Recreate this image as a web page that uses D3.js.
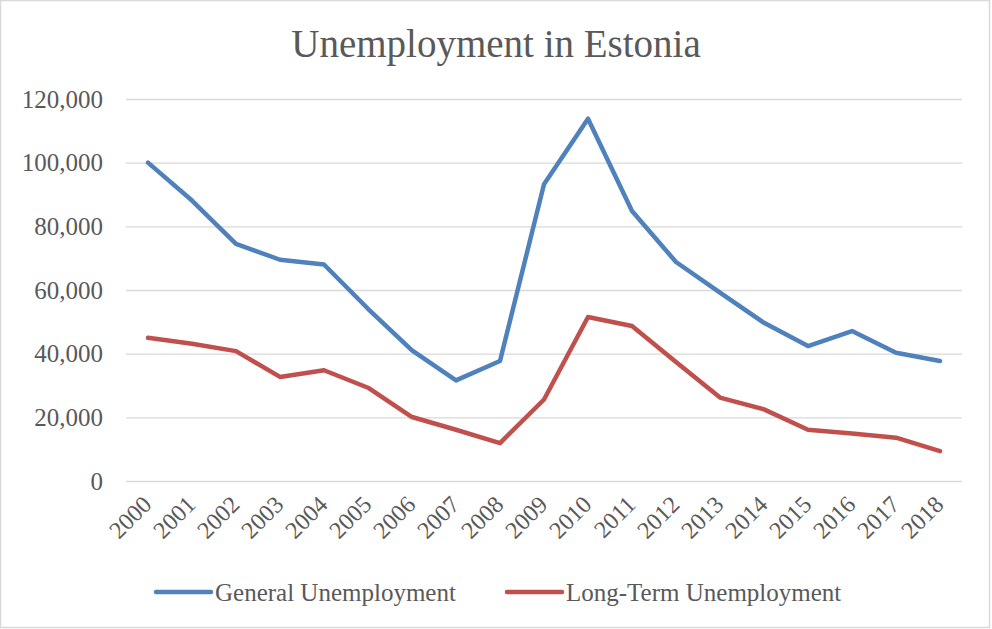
<!DOCTYPE html>
<html>
<head>
<meta charset="utf-8">
<script src="https://cdn.jsdelivr.net/npm/d3@7.9.0/dist/d3.min.js"></script>
<style>
  html, body { margin: 0; padding: 0; background: #fff; }
  svg text { font-family: "Liberation Serif", serif; fill: #595959; }
</style>
</head>
<body>
<svg id="chart" width="992" height="629"></svg>
<script>
// data
const years = ['2000','2001','2002','2003','2004','2005','2006','2007','2008','2009',
               '2010','2011','2012','2013','2014','2015','2016','2017','2018'];
const generalUnemployment = [100000, 88100, 74500, 69500, 68000, 54100, 41000, 31600, 37700, 93200,
                             113800, 84800, 68800, 59200, 49700, 42400, 47100, 40300, 37700];
const longTermUnemployment = [45000, 43100, 40800, 32700, 34800, 29300, 20100, 16100, 11900, 25600,
                              51500, 48700, 37400, 26200, 22500, 16100, 14900, 13600, 9400];
const yTicks = [0, 20000, 40000, 60000, 80000, 100000, 120000];

const series = [
  { name: 'General Unemployment', values: generalUnemployment, color: '#4f81bd' },
  { name: 'Long-Term Unemployment', values: longTermUnemployment, color: '#c0504d' }
];

const svg = d3.select('#chart');

// outer frame
svg.append('rect')
  .attr('x', 0.5).attr('y', 0.5)
  .attr('width', 989).attr('height', 627)
  .attr('fill', '#fff').attr('stroke', '#d9d9d9').attr('stroke-width', 1.5);

const plotLeft = 126, plotRight = 962, plotTop = 99, plotBottom = 481;

const x = d3.scaleBand().domain(years).range([plotLeft, plotRight]);
const y = d3.scaleLinear().domain([0, 120000]).range([plotBottom, plotTop]);

// title
svg.append('text')
  .attr('x', 496).attr('y', 57)
  .attr('text-anchor', 'middle')
  .style('font-size', '39px')
  .text('Unemployment in Estonia');

// y axis with gridlines
const yAxis = svg.append('g')
  .attr('transform', `translate(${plotLeft},0)`)
  .call(d3.axisLeft(y).tickValues(yTicks).tickFormat(d3.format(','))
    .tickSize(-(plotRight - plotLeft)).tickPadding(23));
yAxis.select('.domain').remove();
yAxis.selectAll('line').attr('stroke', '#d9d9d9').attr('stroke-width', 1.3);
yAxis.selectAll('text')
  .style('font-size', '25px')
  .style('font-family', '"Liberation Serif", serif')
  .attr('fill', '#595959');

// x labels (rotated)
svg.append('g').selectAll('text')
  .data(years)
  .join('text')
  .attr('transform', d => `translate(${x(d) + x.bandwidth() / 2 + 5},506) rotate(-45)`)
  .attr('text-anchor', 'end')
  .style('font-size', '24px')
  .text(d => d);

// lines
const line = d3.line()
  .x((d, i) => x(years[i]) + x.bandwidth() / 2)
  .y(d => y(d));

series.forEach(s => {
  svg.append('path')
    .datum(s.values)
    .attr('d', line)
    .attr('fill', 'none')
    .attr('stroke', s.color)
    .attr('stroke-width', 4.5)
    .attr('stroke-linejoin', 'round')
    .attr('stroke-linecap', 'round');
});

// legend
const legendPos = [156, 507];
const legend = svg.append('g').selectAll('g')
  .data(series)
  .join('g')
  .attr('transform', (d, i) => `translate(${legendPos[i]},592)`);
legend.append('line')
  .attr('x1', 0).attr('x2', 55)
  .attr('stroke', d => d.color)
  .attr('stroke-width', 4.5)
  .attr('stroke-linecap', 'round');
legend.append('text')
  .attr('x', 59).attr('y', 9)
  .style('font-size', '25px')
  .text(d => d.name);
</script>
</body>
</html>
